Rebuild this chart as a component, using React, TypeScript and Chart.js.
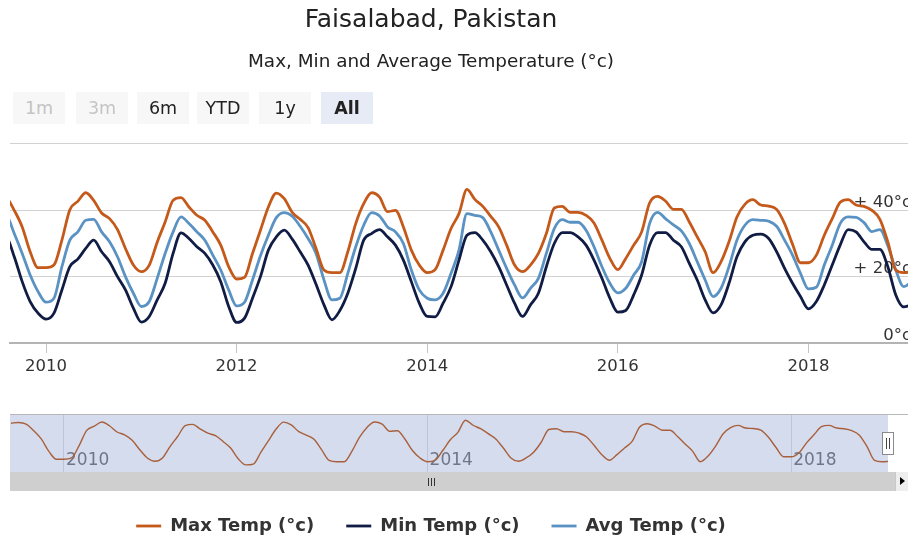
import React, { useEffect, useRef } from 'react';
import { Chart, registerables } from 'chart.js';

Chart.register(...registerables);

const FONT = "'DejaVu Sans', Verdana, sans-serif";

// ---- data (monthly, starting 2009-06) ----
const firstYear = 2009;
const firstMonth = 6;

const maxTemp = [
  44.5, 45, 44, 40, 35, 27.5, 22.7,
  22.7, 23.5, 31, 40.2, 42.7, 45.3, 43, 39.2, 37.5, 34.2, 28.5, 23.5,
  21.5, 23.5, 30.4, 36.5, 43, 43.8, 41, 38.5, 37, 33.5, 29.5, 23,
  19.3, 19.8, 27, 34, 41, 45.2, 43.5, 39.4, 37.3, 34.8, 28.5, 22,
  21.2, 21.2, 27.5, 36, 42, 45.3, 44, 39.6, 40, 35, 28, 23.5,
  21.2, 22.1, 28, 34.5, 39, 46.3, 43.3, 41.2, 38.2, 35, 29.5, 23.5,
  21.5, 23.5, 27, 33, 40.7, 41.2, 39.4, 39.4, 38.5, 36.2, 31, 25.5,
  22.1, 25.5, 29.5, 33.5, 42.2, 44.2, 42.8, 40.3, 40.3, 36.5, 32, 27.5,
  21.2, 24.5, 30.5, 38, 41.8, 43.2, 41.6, 41.3, 40.3, 36, 29.8, 24.2,
  24.2, 26.5, 32.5, 37.5, 42.4, 43.2, 41.6, 41.2, 40, 37.3, 30.5, 22,
  21.2, 21.5,
];

const minTemp = [
  30, 32.5, 32, 26, 18.5, 12.5, 9,
  7.2, 9, 16, 23, 25.3, 28.5, 31, 27.5, 24.5, 20, 16, 10.5,
  6.3, 8, 13, 18, 27, 33.2, 31.5, 29, 27, 23.5, 18.5, 11,
  6.2, 7.5, 13.5, 20, 28, 32, 34, 31.3, 27.5, 23.5, 17.7, 11.5,
  7, 9.8, 15, 22.5, 31, 33, 34.2, 32, 29.5, 25, 18.5, 12,
  8, 7.9, 12, 17, 25, 32.5, 33.3, 31, 27.5, 23, 17.5, 12,
  8, 11.5, 15, 23, 30, 33.3, 33.3, 32, 29.5, 25, 19.5, 13.5,
  9.3, 9.8, 14.5, 20.5, 29.5, 33.3, 33.3, 31, 29, 24, 19, 13,
  9.1, 11.5, 18, 26, 30.5, 32.5, 32.8, 31.5, 27.5, 22.5, 18, 14,
  10.3, 12.5, 17.5, 23.5, 29.5, 34.2, 33.5, 30.5, 28.2, 28.2, 23, 14.5,
  10.9, 11.5,
];

const avgTemp = [
  37.5, 39, 38.5, 33, 27, 20.5, 15.5,
  12.3, 13.5, 23, 31, 33.5, 37, 37.3, 33.5, 30.5, 26, 20, 15,
  11, 12.5, 19.5, 27, 33.5, 38, 36, 33.5, 31, 26.5, 22, 16,
  11.2, 12.3, 19, 26.3, 32.5, 37.8, 39.3, 38.2, 35.2, 31.5, 27, 19,
  13, 13.5, 21, 29, 35.5, 39.3, 38.3, 35, 33.5, 30, 22, 16,
  13.5, 13, 15, 21, 28, 39, 38.5, 37.8, 33.5, 28, 22.5, 17.5,
  13.6, 16.5, 19.5, 27, 34.5, 37.2, 36.4, 36.4, 34, 29, 23, 18,
  15.1, 16.5, 20.5, 24.5, 36, 39.4, 37.5, 35.6, 33.8, 30, 24.5, 19,
  14, 16.5, 23, 31, 35.5, 37.2, 37, 36.7, 35.2, 31, 26.5, 21,
  16.3, 16.8, 23.5, 29.5, 36, 38, 37.9, 36.3, 33.6, 34.2, 29.3, 22,
  17, 18.5,
];

const mainYearTicks = [2010, 2012, 2014, 2016, 2018];
const navYearTicks = [2010, 2014, 2018];
const tempTicks = [0, 20, 40, 60];
const rangeButtons = ['1m', '3m', '6m', 'YTD', '1y', 'All'];
const disabledButtons = ['1m', '3m'];
const selectedButton = 'All';

const C_MAX = '#c4591a';
const C_MIN = '#101c44';
const C_AVG = '#5a92c3';

// month category labels derived from the first month
const months: string[] = [];
{
  let y = firstYear;
  let m = firstMonth;
  for (let i = 0; i < maxTemp.length; i++) {
    months.push(`${y}-${String(m).padStart(2, '0')}`);
    m++;
    if (m > 12) { m = 1; y++; }
  }
}
const toYear = (s: string) => {
  const [y, m] = s.split('-').map(Number);
  return y + (m - 1) / 12;
};

export default function App() {
  const mainRef = useRef<HTMLCanvasElement>(null);
  const navRef = useRef<HTMLCanvasElement>(null);

  useEffect(() => {
    const xs = months.map(toYear);
    const pts = (arr: number[]) => arr.map((v, i) => ({ x: xs[i], y: v }));
    const common = { pointRadius: 0, borderWidth: 2.8, cubicInterpolationMode: 'monotone' as const, fill: false };

    const main = new Chart(mainRef.current!, {
      type: 'line',
      data: {
        datasets: [
          { label: 'Max Temp (°c)', data: pts(maxTemp), borderColor: C_MAX, backgroundColor: C_MAX, ...common },
          { label: 'Min Temp (°c)', data: pts(minTemp), borderColor: C_MIN, backgroundColor: C_MIN, ...common },
          { label: 'Avg Temp (°c)', data: pts(avgTemp), borderColor: C_AVG, backgroundColor: C_AVG, ...common },
        ],
      },
      options: {
        responsive: false,
        animation: false,
        devicePixelRatio: 1,
        events: [],
        layout: { padding: { top: 0, left: 0, right: 0, bottom: 0 } },
        plugins: {
          title: {
            display: true,
            text: 'Faisalabad, Pakistan',
            color: '#222',
            font: { family: FONT, size: 25, weight: 'normal' },
            padding: { top: 5.4, bottom: 0 },
          },
          subtitle: {
            display: true,
            text: 'Max, Min and Average Temperature (°c)',
            color: '#222',
            font: { family: FONT, size: 18.4, weight: 'normal' },
            padding: { top: 15.8, bottom: 70.7 },
          },
          legend: {
            display: true,
            position: 'bottom',
            labels: {
              usePointStyle: true,
              pointStyle: 'line',
              pointStyleWidth: 25,
              padding: 32,
              color: '#333',
              font: { family: FONT, size: 18, weight: 'bold' },
            },
          },
          tooltip: { enabled: false },
        },
        scales: {
          x: {
            type: 'linear',
            position: 'bottom',
            min: 2009.622,
            max: 2019.045,
            afterBuildTicks: (s: any) => { s.ticks = mainYearTicks.map((v) => ({ value: v })); },
            afterFit: (s: any) => { s.height = 142; },
            grid: { drawOnChartArea: false, drawTicks: true, tickLength: 10, color: '#c4c4c4' },
            border: { display: true, color: '#b4b4b4', width: 2 },
            ticks: {
              color: '#333',
              font: { family: FONT, size: 16.5 },
              padding: 4,
              maxRotation: 0,
              autoSkip: false,
              callback: (v: any) => String(v),
            },
          },
          y: {
            type: 'linear',
            position: 'right',
            min: 0,
            max: 60,
            afterBuildTicks: (s: any) => { s.ticks = tempTicks.map((v) => ({ value: v })); },
            afterFit: (s: any) => { s.width = 0; },
            grid: { color: '#d2d2d2', drawTicks: false },
            border: { display: false },
            ticks: {
              mirror: true,
              padding: 3,
              labelOffset: -7.5,
              color: '#333',
              font: { family: FONT, size: 16.5 },
              callback: (v: any) => (v >= 60 ? '' : v > 0 ? `+ ${v}°c` : `${v}°c`),
            },
          },
          yPad: {
            type: 'linear',
            position: 'left',
            display: true,
            grid: { display: false },
            border: { display: false },
            ticks: { display: false },
            afterFit: (s: any) => { s.width = 56; },
          },
        },
      },
    } as any);

    const nav = new Chart(navRef.current!, {
      type: 'line',
      data: {
        datasets: [
          { label: 'nav', data: pts(maxTemp), borderColor: '#a8603c', borderWidth: 1.4, pointRadius: 0, cubicInterpolationMode: 'monotone', fill: false },
        ],
      },
      options: {
        responsive: false,
        animation: false,
        devicePixelRatio: 1,
        events: [],
        layout: { padding: 0 },
        plugins: { legend: { display: false }, tooltip: { enabled: false }, title: { display: false } },
        scales: {
          x: {
            type: 'linear',
            position: 'bottom',
            min: 2009.406,
            max: 2019.065,
            afterBuildTicks: (s: any) => { s.ticks = navYearTicks.map((v) => ({ value: v })); },
            afterFit: (s: any) => { s.height = 0; },
            grid: { color: '#bcc4d8', drawTicks: false },
            border: { display: false },
            ticks: { display: false },
          },
          y: { display: false, min: 15, max: 49.5 },
        },
      },
      plugins: [
        {
          id: 'navMask',
          beforeDraw(c: any) {
            const { ctx, chartArea: a } = c;
            ctx.save();
            ctx.fillStyle = '#d5dcee';
            ctx.fillRect(a.left, a.top, a.right - a.left, a.bottom - a.top);
            ctx.restore();
          },
          beforeDatasetsDraw(c: any) {
            const { ctx } = c;
            const sx = c.scales.x;
            ctx.save();
            ctx.font = `17px ${FONT}`;
            ctx.fillStyle = '#6e7689';
            ctx.textAlign = 'left';
            ctx.textBaseline = 'middle';
            navYearTicks.forEach((v) => {
              ctx.fillText(String(v), sx.getPixelForValue(v) + 2, 46);
            });
            ctx.restore();
          },
        },
      ],
    } as any);

    return () => {
      main.destroy();
      nav.destroy();
    };
  }, []);

  const abs = (style: React.CSSProperties): React.CSSProperties => ({ position: 'absolute', ...style });

  return (
    <div style={abs({ left: 0, top: 0, width: 908, height: 539, overflow: 'hidden', background: '#fff', fontFamily: FONT })}>
      <div style={abs({ left: -46, top: 0 })}>
        <canvas ref={mainRef} width={954} height={545} style={{ display: 'block', width: 954, height: 545 }} />
      </div>

      {rangeButtons.map((b, i) => {
        const lefts = [13, 76, 137, 197, 259, 321];
        const disabled = disabledButtons.includes(b);
        const sel = b === selectedButton;
        return (
          <div
            key={b}
            style={abs({
              left: lefts[i],
              top: 92,
              width: 52,
              height: 32,
              background: sel ? '#e6ebf5' : '#f7f7f7',
              color: disabled ? '#c4c4c4' : '#222',
              fontWeight: sel ? 'bold' : 'normal',
              fontSize: 17.5,
              display: 'flex',
              alignItems: 'center',
              justifyContent: 'center',
            })}
          >
            {b}
          </div>
        );
      })}

      <div style={abs({ left: 10, top: 414, width: 898, height: 1, background: '#b8b8b8' })} />
      <canvas ref={navRef} width={878} height={57} style={{ position: 'absolute', left: 10, top: 415, width: 878, height: 57 }} />

      <div style={abs({ left: 882, top: 432, width: 12, height: 23, background: '#fff', border: '1px solid #8a8a8a', boxSizing: 'border-box' })}>
        <div style={abs({ left: 3, top: 5, width: 1, height: 11, background: '#444' })} />
        <div style={abs({ left: 6, top: 5, width: 1, height: 11, background: '#444' })} />
      </div>

      <div style={abs({ left: 10, top: 472, width: 885, height: 19, background: '#cfcfcf' })} />
      <div style={abs({ left: 428, top: 478, width: 1, height: 8, background: '#333' })} />
      <div style={abs({ left: 431, top: 478, width: 1, height: 8, background: '#333' })} />
      <div style={abs({ left: 434, top: 478, width: 1, height: 8, background: '#333' })} />
      <div style={abs({ left: 895, top: 472, width: 14, height: 19, background: '#eeeeee', borderLeft: '1px solid #c8c8c8', boxSizing: 'border-box' })} />
      <div style={abs({ left: 900, top: 477, width: 0, height: 0, borderTop: '4.5px solid transparent', borderBottom: '4.5px solid transparent', borderLeft: '5px solid #000' })} />
    </div>
  );
}
